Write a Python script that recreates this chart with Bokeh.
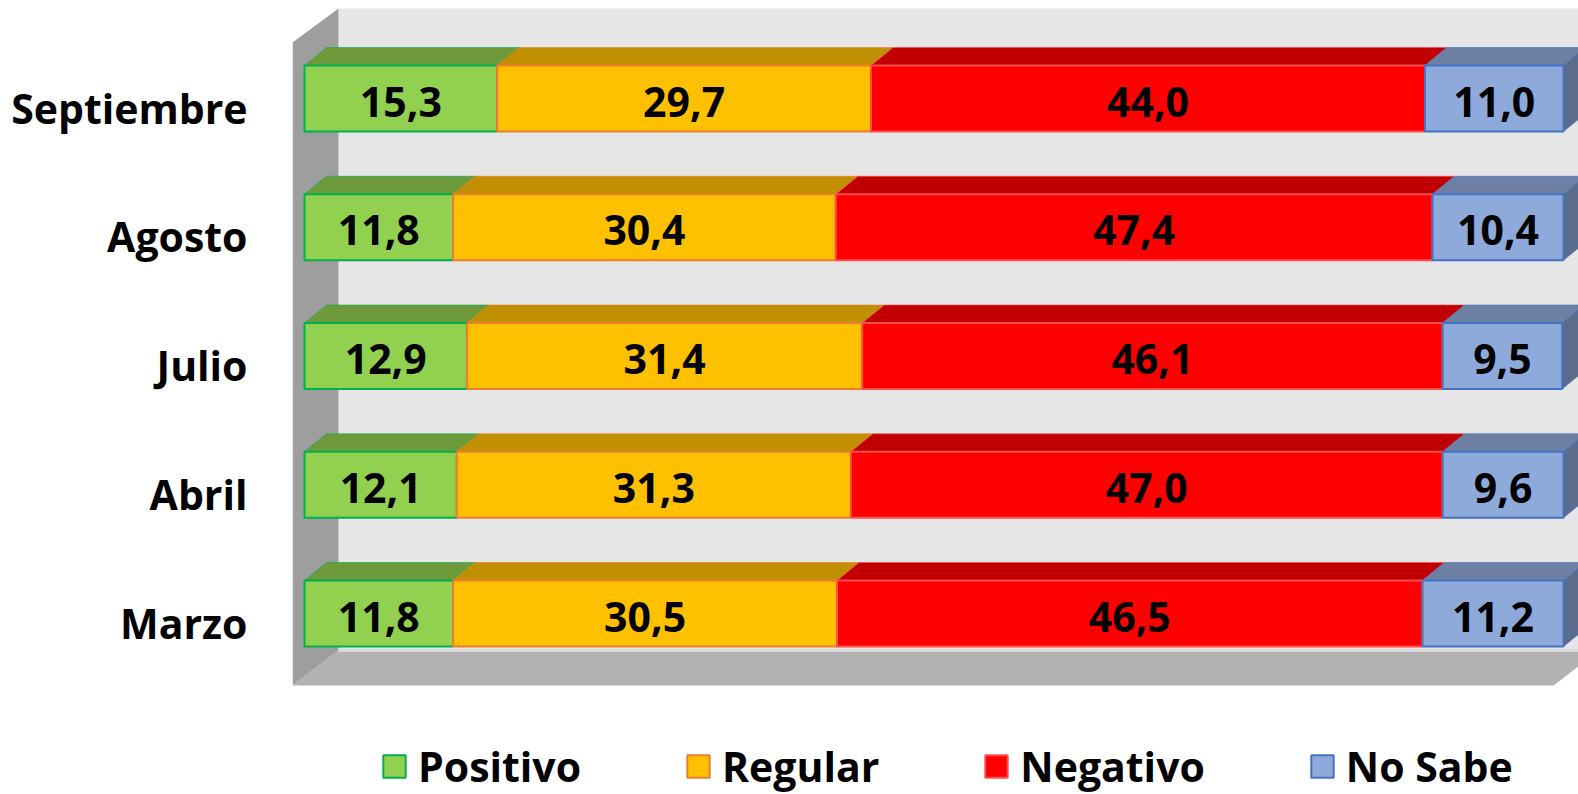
from bokeh.plotting import figure
from bokeh.models import Range1d, FixedTicker, Legend, LegendItem, ColumnDataSource
from bokeh.core.properties import value
from bokeh.embed import file_html
from bokeh.resources import INLINE

# ---------------- data ----------------
months = ["Marzo", "Abril", "Julio", "Agosto", "Septiembre"]
series_names = ["Positivo", "Regular", "Negativo", "No Sabe"]
positivo = [11.8, 12.1, 12.9, 11.8, 15.3]
regular = [30.5, 31.3, 31.4, 30.4, 29.7]
negativo = [46.5, 47.0, 46.1, 47.4, 44.0]
no_sabe = [11.2, 9.6, 9.5, 10.4, 11.0]

# ---------------- style ----------------
front_colors = ["#92d050", "#ffc000", "#ff0000", "#8eaadb"]
top_colors = ["#6f9a3c", "#c09000", "#c00000", "#6d80a4"]
line_colors = ["#00b050", "#ed7d31", "#ff4d4d", "#4472c4"]
side_color = "#5b6b8b"

W, H = 1578, 794
FRAME_LEFT = 292
X0 = 304.0            # pixel of 0 %
PX_X = 12.59          # pixels per percent
PX_Y = 128.75         # pixels per row
ROW0 = 622.0          # pixel of first category tick
BAR_SHIFT = 9.0 / PX_Y    # bars sit a bit above the category label centre
X_OFF = (X0 - FRAME_LEFT) / PX_X
Y_TOP = ROW0 / PX_Y
Y_BOT = (ROW0 - H) / PX_Y
BAR_H = 66.0 / PX_Y
DX = 22.0 / PX_X
DY = 18.0 / PX_Y
WALL_D_X = 46.0 / PX_X
x_end = (W - X0) / PX_X


def ypx(py):
    return (ROW0 - py) / PX_Y


FLOOR_FRONT = ypx(685.0)
FLOOR_BACK = ypx(650.0)

p = figure(width=W, height=H, output_backend="svg", toolbar_location=None,
           x_range=Range1d(-X_OFF, x_end), y_range=Range1d(Y_BOT, Y_TOP),
           min_border_left=FRAME_LEFT, min_border_right=0, min_border_top=0,
           min_border_bottom=0)
p.outline_line_color = None
p.grid.visible = False
p.xaxis.visible = False
p.background_fill_color = "white"
p.border_fill_color = "white"

# ---------------- walls ----------------
back_left = -X_OFF + WALL_D_X
p.quad(left=back_left, right=x_end + 5, bottom=FLOOR_BACK, top=ypx(8),
       fill_color="#e7e6e6", line_color=None)
p.patch([-X_OFF, back_left, back_left, -X_OFF],
        [ypx(42), ypx(8), FLOOR_BACK, FLOOR_FRONT],
        fill_color="#9e9e9e", line_color=None)
floor_front_right = (1553 - X0) / PX_X
p.patch([-X_OFF, back_left, floor_front_right + WALL_D_X, floor_front_right],
        [FLOOR_FRONT, FLOOR_BACK, FLOOR_BACK, FLOOR_FRONT],
        fill_color="#b2b2b2", line_color=None)
p.line([back_left, x_end + 5], [FLOOR_BACK, FLOOR_BACK], line_color="#d9d9d9", line_width=3)

# ---------------- bars ----------------
data = [positivo, regular, negativo, no_sabe]
rows = list(range(len(months)))
ys = [r + BAR_SHIFT for r in rows]
lefts = [0.0] * len(months)
front_renderers = []
for k, vals in enumerate(data):
    rights = [l + v for l, v in zip(lefts, vals)]
    top_xs = [[l, r, r + DX, l + DX] for l, r in zip(lefts, rights)]
    top_ys = [[y + BAR_H / 2, y + BAR_H / 2, y + BAR_H / 2 + DY, y + BAR_H / 2 + DY] for y in ys]
    p.patches(top_xs, top_ys, fill_color=top_colors[k], line_color=line_colors[k],
              line_width=1, line_alpha=0.6)
    if k == len(data) - 1:
        side_xs = [[r, r + DX, r + DX, r] for r in rights]
        side_ys = [[y - BAR_H / 2, y - BAR_H / 2 + DY, y + BAR_H / 2 + DY, y + BAR_H / 2] for y in ys]
        p.patches(side_xs, side_ys, fill_color=side_color, line_color=line_colors[k],
                  line_width=1, line_alpha=0.6)
    src = ColumnDataSource(dict(
        y=ys, left=lefts, right=rights,
        cx=[(l + r) / 2 for l, r in zip(lefts, rights)],
        lab=[f"{v:.1f}".replace(".", ",") for v in vals]))
    r_front = p.hbar(y="y", left="left", right="right", height=BAR_H, source=src,
                     fill_color=front_colors[k], line_color=line_colors[k], line_width=2)
    front_renderers.append(r_front)
    p.text(x="cx", y="y", text="lab", source=src, text_align="center",
           text_baseline="middle", text_font=value("Open Sans"),
           text_font_style="bold", text_font_size="41px", text_color="black",
           y_offset=3)
    lefts = rights

# ---------------- axis ----------------
p.yaxis.ticker = FixedTicker(ticks=rows)
p.yaxis.major_label_overrides = {i: m for i, m in enumerate(months)}
p.yaxis.major_tick_out = 0
p.yaxis.major_tick_in = 0
p.yaxis.minor_tick_out = 0
p.yaxis.minor_tick_in = 0
p.yaxis.axis_line_color = None
p.yaxis.major_label_standoff = 45
p.yaxis.major_label_text_font = "Open Sans"
p.yaxis.major_label_text_font_style = "bold"
p.yaxis.major_label_text_font_size = "41px"
p.yaxis.major_label_text_color = "black"

# ---------------- legend ----------------
legend = Legend(items=[LegendItem(label=n, renderers=[r]) for n, r in zip(series_names, front_renderers)],
                orientation="horizontal", location=(88, 0),
                glyph_width=28, glyph_height=28, label_standoff=10, spacing=103,
                padding=0, margin=0, border_line_color=None, background_fill_alpha=0,
                label_text_font="Open Sans", label_text_font_style="bold",
                label_text_font_size="41px", label_text_color="black")
p.add_layout(legend)

open("out.html", "w").write(file_html(p, INLINE))
